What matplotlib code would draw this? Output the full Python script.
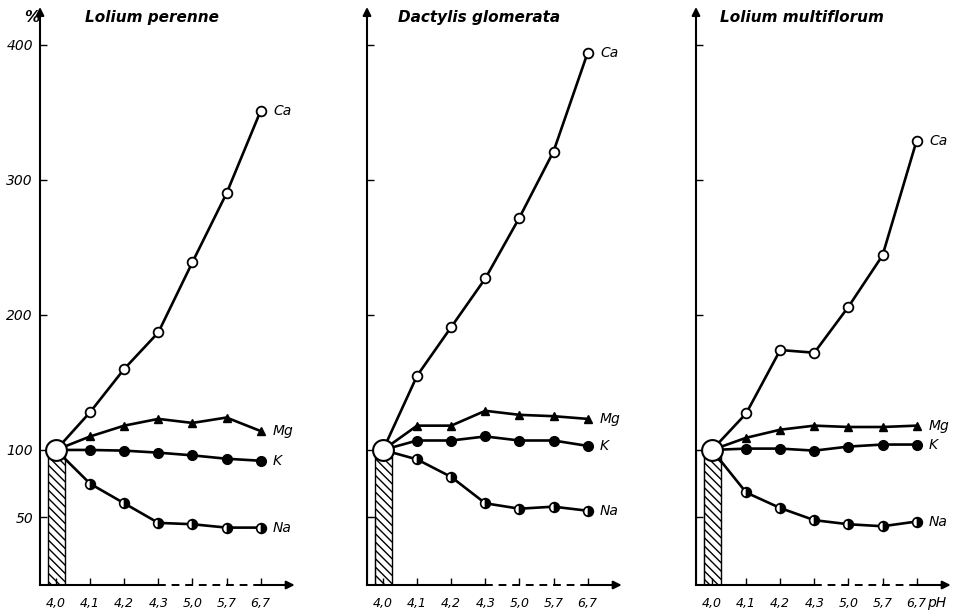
import matplotlib.pyplot as plt

# pH steps (categorical positions, 4.0 = reference)
ph_labels = ['4,0', '4,1', '4,2', '4,3', '5,0', '5,7', '6,7']
species = ['Lolium perenne', 'Dactylis glomerata', 'Lolium multiflorum']

# uptake in % of the pH 4.0 value, one row per species
ca = [[100, 128, 160, 187, 239, 290, 351],
      [100, 155, 191, 227, 272, 321, 394],
      [100, 127, 174, 172, 206, 244, 329]]
mg = [[100, 110, 118, 123, 120, 124, 114],
      [100, 118, 118, 129, 126, 125, 123],
      [100, 109, 115, 118, 117, 117, 118]]
k = [[100, 100, 99.5, 98, 96, 93.5, 92],
     [100, 107, 107, 110, 107, 107, 103],
     [100, 101, 101, 99.5, 102.5, 104, 104]]
na = [[100, 75, 60.5, 46, 45, 42.5, 42.5],
      [100, 93, 80, 60.5, 56.5, 58, 55]]
na.append([100, 68.5, 57, 48, 45, 43.5, 47])
side_bar = [0, 50, 100]

fig = plt.figure(figsize=(9.6, 6.12), dpi=100)
lefts = [40, 367, 696]
title_x = [0.85, 0.45, 0.22]
xmin, xmax = -0.47, 7.0
ymax = 428
italic = dict(style='italic', family='DejaVu Sans')

for i in range(3):
    ax = fig.add_axes([lefts[i] / 960, 27 / 612, 254.7 / 960, 578 / 612])
    ax.set_xlim(xmin, xmax)
    ax.set_ylim(0, ymax)
    for s in ax.spines.values():
        s.set_visible(False)
    x = list(range(len(ph_labels)))

    # reference bar at pH 4.0
    ax.bar(0, 100, width=0.5, fill=False, hatch='\\\\\\\\', edgecolor='k', lw=1.0)
    if side_bar[i] > 0:
        ax.bar(-0.36, side_bar[i], width=0.22, fill=False, edgecolor='k', lw=0.8)

    ax.plot(x, ca[i], '-o', color='k', lw=1.9, ms=7, mfc='white', mec='k', mew=1.3)
    ax.plot(x, mg[i], '-^', color='k', lw=1.9, ms=6)
    ax.plot(x, k[i], '-o', color='k', lw=1.9, ms=7)
    ax.plot(x, na[i], '-o', color='k', lw=1.9, ms=7, fillstyle='right',
            mfc='k', mfcalt='white', mec='k', mew=1.2)
    ax.plot(0, 100, 'o', ms=15, mfc='white', mec='k', mew=1.5, zorder=5)

    for vals, name in [(ca[i], 'Ca'), (mg[i], 'Mg'), (k[i], 'K'), (na[i], 'Na')]:
        ax.annotate(name, (6, vals[-1]), xytext=(9, 0), textcoords='offset points',
                    va='center', ha='left', fontsize=10, **italic)

    # axes drawn by hand: arrowed y axis, broken (dashed) x axis
    ax.annotate('', xy=(xmin, ymax), xytext=(xmin, 0),
                arrowprops=dict(arrowstyle='-|>', lw=1.5, color='k',
                                shrinkA=0, shrinkB=0, mutation_scale=12))
    ax.plot([xmin, 3], [0, 0], color='k', lw=1.5, clip_on=False)
    ax.plot([3, 6], [0, 0], color='k', lw=1.4, ls=(0, (4, 3)), clip_on=False)
    ax.annotate('', xy=(xmax, 0), xytext=(6, 0),
                arrowprops=dict(arrowstyle='-|>', lw=1.5, color='k',
                                shrinkA=0, shrinkB=0, mutation_scale=12))

    ax.set_xticks(x)
    ax.set_xticklabels(ph_labels, fontsize=9, **italic)
    ax.set_yticks([50, 100, 200, 300, 400])
    ax.tick_params(axis='x', direction='in', length=5, width=1, pad=9)
    ax.tick_params(axis='y', direction='in', length=5, width=1, pad=5)
    if i == 0:
        ax.set_yticklabels(['50', '100', '200', '300', '400'], fontsize=10, **italic)
        ax.text(-0.72, 420, '%', fontsize=11, ha='center', va='center',
                weight='bold', **italic)
    else:
        ax.set_yticklabels([])
    if i == 2:
        ax.text(6.32, -13.5, 'pH', fontsize=10, ha='left', va='center', **italic)

    ax.text(title_x[i], 420, species[i], fontsize=11, weight='bold',
            ha='left', va='center', **italic)

fig.savefig('out.png', dpi=100)
